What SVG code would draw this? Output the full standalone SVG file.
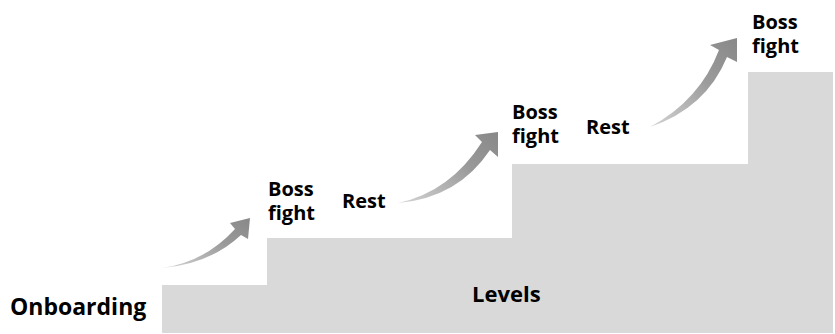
<svg xmlns="http://www.w3.org/2000/svg" width="835" height="334" viewBox="0 0 835 334">
<style>
.lbl{font-family:"Open Sans","Noto Sans","Liberation Sans",sans-serif;font-weight:700;font-size:20px;fill:#000}
.big{font-size:23px}
.mid{font-size:22px}
.stair{fill:#d9d9d9}
.arr{fill:url(#ag)}
</style>
<defs>
<linearGradient id="ag" x1="0" y1="1" x2="1" y2="0">
<stop offset="0" stop-color="#d4d4d4"/>
<stop offset="0.6" stop-color="#9a9a9a"/>
<stop offset="1" stop-color="#888888"/>
</linearGradient>
</defs>
<rect width="835" height="334" fill="#fff"/>
<g id="stairs">
<path class="stair" d="M162,333 L162,285 L267,285 L267,238 L512,238 L512,164 L748,164 L748,72 L833,72 L833,333 Z"/>
</g>
<g id="connectors">
<path class="arr" d="M162,268 Q205,262 235,229 L230,223 L250,218 L248,239 L241,235 Q210,264 162,268 Z"/>
<path class="arr" d="M398,203 Q450,192 482,142 L475,135 L498,132 L498,157 L490,150 Q458,198 398,203 Z"/>
<path class="arr" d="M650,127 Q700,100 719,50 L710,45 L737,38 L737,62 L727,57 Q706,108 650,127 Z"/>
</g>
<g id="onboarding"><text class="lbl big" x="10" y="315">Onboarding</text></g>
<g id="levels"><text class="lbl mid" x="472" y="302">Levels</text></g>
<g id="boss1"><text class="lbl" x="268" y="196">Boss<tspan x="268" dy="24">fight</tspan></text></g>
<g id="rest1"><text class="lbl" x="342" y="208">Rest</text></g>
<g id="boss2"><text class="lbl" x="512" y="119">Boss<tspan x="512" dy="24">fight</tspan></text></g>
<g id="rest2"><text class="lbl" x="586" y="134">Rest</text></g>
<g id="boss3"><text class="lbl" x="752" y="29">Boss<tspan x="752" dy="24">fight</tspan></text></g>
</svg>
